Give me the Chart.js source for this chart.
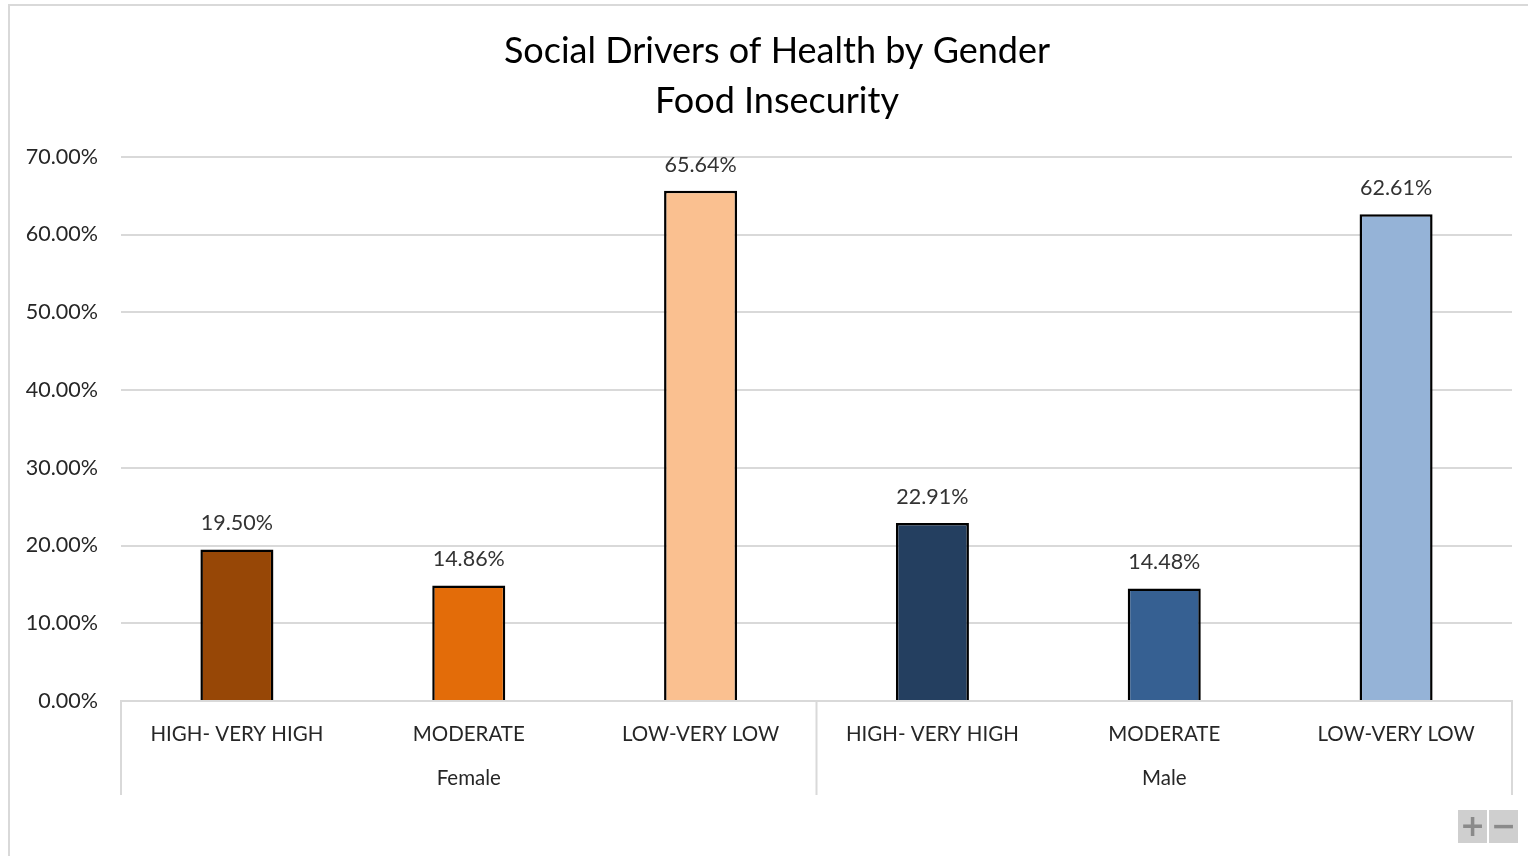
<!DOCTYPE html>
<html>
<head>
<meta charset="utf-8">
<title>Social Drivers of Health by Gender</title>
<script src="https://cdn.jsdelivr.net/npm/chart.js@4/dist/chart.umd.min.js"></script>
<style>
  html, body { margin: 0; padding: 0; background: #fff; overflow: hidden; }
  #frame { position: absolute; left: 8px; top: 4px; width: 1540px; height: 880px; border: 2px solid #d9d9d9; box-sizing: border-box; }
  #chart { position: absolute; left: 0; top: 0; }
  .zoom-btn { position: absolute; top: 810px; width: 29px; height: 33px; background: #cfcfcf; color: #8a8a8a;
              font: bold 30px "DejaVu Sans", sans-serif; text-align: center; line-height: 32px; }
</style>
</head>
<body>
<div id="frame"></div>
<canvas id="chart" width="1528" height="856"></canvas>
<div class="zoom-btn" style="left:1458px">+</div>
<div class="zoom-btn" style="left:1489px">&minus;</div>
<script>
// 食物不安全程度（依性別）
var levels = ["HIGH- VERY HIGH", "MODERATE", "LOW-VERY LOW", "HIGH- VERY HIGH", "MODERATE", "LOW-VERY LOW"];
var genders = ["Female", "Male"];
var percents = [19.50, 14.86, 65.64, 22.91, 14.48, 62.61];
var barColors = ["#974706", "#E36C09", "#FAC090", "#243F60", "#366092", "#95B3D7"];
var yTicks = [0, 10, 20, 30, 40, 50, 60, 70];

var FONT = "Lato, 'Open Sans', sans-serif";
var GRID = "#d9d9d9";

// 數值標籤 + 性別分組標籤
var barLabels = {
  id: "barLabels",
  afterLayout: function (chart) {
    // 標題置中於整個外框，而非繪圖區
    if (chart.titleBlock) chart.titleBlock.left += 42;
  },
  afterDatasetsDraw: function (chart) {
    var ctx = chart.ctx;
    var meta = chart.getDatasetMeta(0);
    ctx.save();
    ctx.font = "21.5px " + FONT;
    ctx.fillStyle = "#333";
    ctx.textAlign = "center";
    ctx.textBaseline = "middle";
    meta.data.forEach(function (bar, i) {
      ctx.fillText(percents[i].toFixed(2) + "%", bar.x, bar.y - 26);
    });
    ctx.restore();
  },
  afterDraw: function (chart) {
    var ctx = chart.ctx;
    var x = chart.scales.x;
    var top = chart.chartArea.bottom;
    var per = levels.length / genders.length;
    var edges = [x.left];
    for (var g = 1; g < genders.length; g++) {
      edges.push((x.getPixelForValue(g * per - 1) + x.getPixelForValue(g * per)) / 2);
    }
    edges.push(x.right);
    ctx.save();
    ctx.strokeStyle = GRID;
    ctx.lineWidth = 2;
    edges.forEach(function (ex) {
      ctx.beginPath();
      ctx.moveTo(ex, top);
      ctx.lineTo(ex, top + 94);
      ctx.stroke();
    });
    ctx.font = "20.5px " + FONT;
    ctx.fillStyle = "#262626";
    ctx.textAlign = "center";
    ctx.textBaseline = "middle";
    genders.forEach(function (name, g) {
      ctx.fillText(name, (edges[g] + edges[g + 1]) / 2, top + 77);
    });
    ctx.restore();
  }
};

new Chart(document.getElementById("chart"), {
  type: "bar",
  data: {
    labels: levels,
    datasets: [{
      data: percents,
      backgroundColor: barColors,
      borderColor: "#000",
      borderWidth: 2.5,
      categoryPercentage: 1,
      barPercentage: 0.315
    }]
  },
  options: {
    responsive: false,
    animation: false,
    layout: { padding: { left: 0, right: 16, top: 0, bottom: 55 } },
    plugins: {
      legend: { display: false },
      tooltip: { enabled: false },
      title: {
        display: true,
        text: ["Social Drivers of Health by Gender", "Food Insecurity"],
        color: "#000",
        font: { family: FONT, size: 36, weight: "normal", lineHeight: 1.4 },
        padding: { top: 26, bottom: 30 }
      }
    },
    scales: {
      x: {
        afterFit: function (s) { s.height = 100; },
        grid: { display: false },
        border: { display: true, color: GRID, width: 2 },
        ticks: { color: "#262626", font: { family: FONT, size: 20.5 }, padding: 13, maxRotation: 0, autoSkip: false }
      },
      y: {
        min: 0,
        max: 70,
        afterFit: function (s) { s.width = 121; },
        afterBuildTicks: function (s) { s.ticks = yTicks.map(function (v) { return { value: v }; }); },
        grid: { color: GRID, lineWidth: 2, drawTicks: false },
        border: { display: false },
        ticks: {
          color: "#262626",
          padding: 23,
          font: { family: FONT, size: 21.5 },
          callback: function (v) { return v.toFixed(2) + "%"; }
        }
      }
    }
  },
  plugins: [barLabels]
});
</script>
</body>
</html>
